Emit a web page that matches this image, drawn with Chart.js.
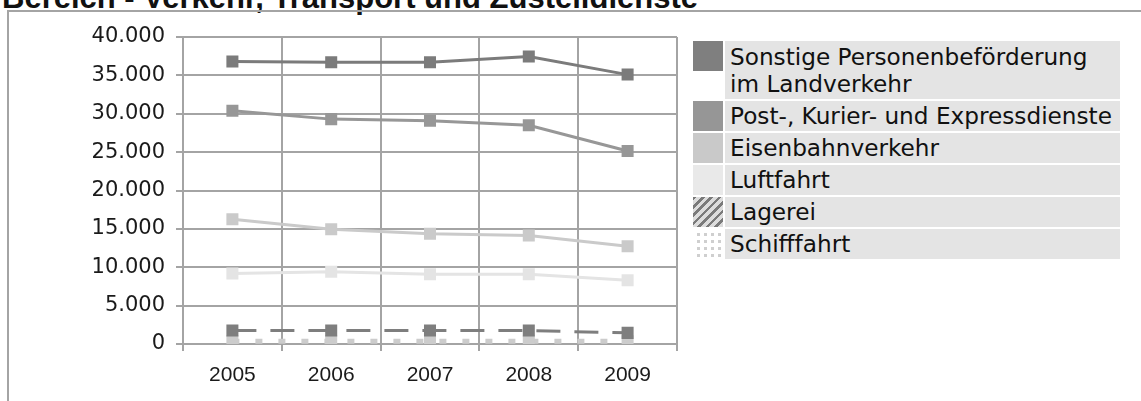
<!DOCTYPE html>
<html>
<head>
<meta charset="utf-8">
<script src="https://cdn.jsdelivr.net/npm/chart.js@4"></script>
<style>
  html, body { margin: 0; padding: 0; background: #fff; }
  body { width: 1141px; height: 401px; position: relative; overflow: hidden; }
  .titel {
    position: absolute; left: 2px; top: -18px;
    font: bold 31px "Liberation Sans", Arial, sans-serif; line-height: 31px;
    color: #111; white-space: nowrap;
  }
  .rahmen {
    position: absolute; left: 7px; top: 10px; right: -10px; bottom: -10px;
    border-left: 2px solid #a4a4a4; border-top: 2px solid #a4a4a4;
  }
  .chart-box { position: absolute; left: 0; top: 0; width: 690px; height: 401px; }
  .legende { position: absolute; left: 693px; top: 41px; }
  .zeile { display: flex; margin-bottom: 2px; }
  .feld { width: 30px; height: 30px; flex: none; margin-right: 2px; }
  .text {
    background: #e4e4e4; width: 385px; padding: 0 5px;
    font: 23.2px "DejaVu Sans", Verdana, sans-serif; line-height: 30px; color: #111;
    white-space: nowrap;
  }
  .zeile.zwei .text { line-height: 27px; padding-top: 2px; padding-bottom: 2px; }
</style>
</head>
<body>
<div class="titel">Bereich - Verkehr, Transport und Zustelldienste</div>
<div class="rahmen"></div>
<div class="chart-box"><canvas id="verkehrChart"></canvas></div>
<div class="legende" id="legende"></div>

<script>
const jahre = ['2005', '2006', '2007', '2008', '2009'];

const sonstigePersonen = [36800, 36700, 36700, 37450, 35100];
const postKurier = [30400, 29300, 29100, 28500, 25150];
const eisenbahn = [16250, 14950, 14350, 14150, 12750];
const luftfahrt = [9200, 9400, 9100, 9100, 8300];
const lagerei = [1750, 1750, 1750, 1750, 1450];
const schifffahrt = [350, 350, 350, 350, 350];

const reihenNamen = [
  ['Sonstige Personenbeförderung', 'im Landverkehr'],
  ['Post-, Kurier- und Expressdienste'],
  ['Eisenbahnverkehr'],
  ['Luftfahrt'],
  ['Lagerei'],
  ['Schifffahrt']
];

const yMin = 0;
const yMax = 40000;
const ySchritt = 5000;

// styles
const farben = ['#7b7b7b', '#979797', '#cacaca', '#e4e4e4', '#7e7e7e', '#cccccc'];
const striche = [[], [], [], [], [24, 14], [7, 16]];
const breiten = [3, 3, 3, 3, 3, 5];
const felder = [
  '#7f7f7f',
  '#969696',
  '#c9c9c9',
  '#e9e9e9',
  'repeating-linear-gradient(135deg, #7a7a7a 0 2.5px, #dcdcdc 2.5px 6px)',
  'linear-gradient(90deg, #fff 4px, transparent 4px) 0 0/7px 7px, linear-gradient(#fff 4px, #cfcfcf 4px) 0 0/7px 7px, #fff'
];

const werte = [sonstigePersonen, postKurier, eisenbahn, luftfahrt, lagerei, schifffahrt];

const formatZahl = (v) => String(v).replace(/\B(?=(\d{3})+(?!\d))/g, '.');

const datensaetze = werte.map((d, i) => ({
  label: reihenNamen[i].join(' '),
  data: d,
  borderColor: farben[i],
  backgroundColor: farben[i],
  borderWidth: breiten[i],
  borderDash: striche[i],
  tension: 0,
  pointStyle: 'rect',
  pointRadius: 8.5,
  pointBorderWidth: 0,
  pointBackgroundColor: farben[i]
}));

const gitterFarbe = '#a4a4a4';

new Chart(document.getElementById('verkehrChart').getContext('2d'), {
  type: 'line',
  data: { labels: jahre, datasets: datensaetze },
  options: {
    responsive: true,
    maintainAspectRatio: false,
    animation: false,
    events: [],
    layout: { padding: { top: 37, right: 13, bottom: 0, left: 0 } },
    plugins: { legend: { display: false }, tooltip: { enabled: false } },
    scales: {
      x: {
        offset: true,
        grid: { offset: true, color: gitterFarbe, lineWidth: 2, tickLength: 7 },
        border: { color: gitterFarbe, width: 2 },
        ticks: {
          color: '#1a1a1a', padding: 12,
          font: { family: '"Liberation Sans", Arial, sans-serif', size: 21 }
        },
        afterFit: (s) => { s.height = 57; }
      },
      y: {
        min: yMin,
        max: yMax,
        grid: { color: gitterFarbe, lineWidth: 2, tickLength: 7 },
        border: { color: gitterFarbe, width: 2 },
        ticks: {
          stepSize: ySchritt, color: '#1a1a1a', padding: 11,
          font: { family: '"DejaVu Sans", Verdana, sans-serif', size: 21 },
          callback: (v) => formatZahl(v)
        },
        afterFit: (s) => { s.width = 183; }
      }
    }
  }
});

const legende = document.getElementById('legende');
reihenNamen.forEach((name, i) => {
  const zeile = document.createElement('div');
  zeile.className = 'zeile' + (name.length > 1 ? ' zwei' : '');
  const feld = document.createElement('div');
  feld.className = 'feld';
  feld.style.background = felder[i];
  const text = document.createElement('div');
  text.className = 'text';
  text.innerHTML = name.join('<br>');
  zeile.appendChild(feld);
  zeile.appendChild(text);
  legende.appendChild(zeile);
});
</script>
</body>
</html>
